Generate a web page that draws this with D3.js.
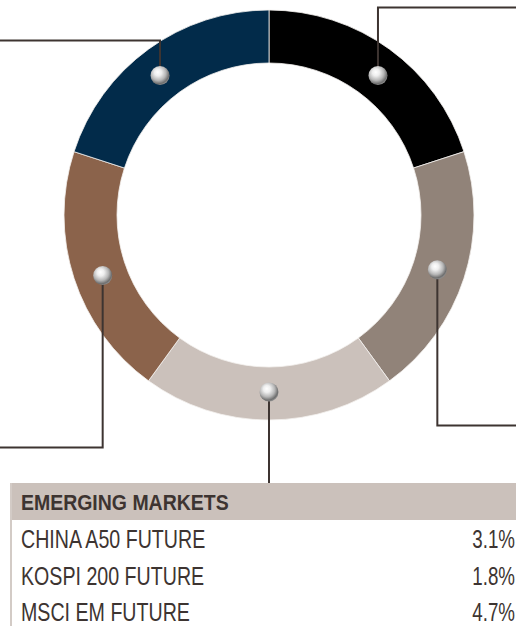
<!DOCTYPE html>
<html>
<head>
<meta charset="utf-8">
<script src="https://cdn.jsdelivr.net/npm/d3@7"></script>
<style>
  html, body { margin: 0; padding: 0; background: #ffffff; }
  svg { display: block; }
</style>
</head>
<body>
<div id="chart"></div>
<script>
// Allocation ring: five equal sleeves, clockwise from twelve o'clock
const sliceShares = [20, 20, 20, 20, 20];
const sliceColors = ["#000000", "#918379", "#cbc1bb", "#8b634b", "#022b4a"];

// Emerging markets sleeve breakdown
const emTitle = "EMERGING MARKETS";
const emNames = ["CHINA A50 FUTURE", "KOSPI 200 FUTURE", "MSCI EM FUTURE"];
const emWeights = [3.1, 1.8, 4.7];

const W = 516, H = 626;
const cx = 269, cy = 215;
const rOuter = 205, rInner = 152, rPin = 177;
const ink = "#3d3431";
const font = "'Liberation Sans Narrow', 'Arial Narrow', 'Liberation Sans', Arial, sans-serif";

// leader routing per slice: angle of the pin (deg), vertical run end, horizontal end
const leaders = [
  { angle: 38,  yEnd: 7.5,   xEnd: W },
  { angle: 108, yEnd: 425.5, xEnd: W },
  { angle: 180, yEnd: 483,   xEnd: null },
  { angle: 250, yEnd: 447.5, xEnd: 0 },
  { angle: -38, yEnd: 40.5,  xEnd: 0 }
];

const svg = d3.select("#chart").append("svg")
  .attr("width", W).attr("height", H);

const defs = svg.append("defs");
const grad = defs.append("radialGradient")
  .attr("id", "pinBall").attr("cx", "42%").attr("cy", "38%").attr("r", "62%")
  .attr("fx", "38%").attr("fy", "32%");
[[0, "#ffffff"], [0.3, "#eeeeee"], [0.65, "#b5b5b5"], [0.9, "#6f6f6f"], [1, "#8a8a8a"]]
  .forEach(([o, c]) => grad.append("stop").attr("offset", o).attr("stop-color", c));

// ring
const pie = d3.pie().sort(null).startAngle(0).endAngle(2 * Math.PI)(sliceShares);
const arc = d3.arc().innerRadius(rInner).outerRadius(rOuter);
const ring = svg.append("g").attr("transform", `translate(${cx},${cy})`);
ring.selectAll("path").data(pie).join("path")
  .attr("d", arc)
  .attr("fill", (d, i) => sliceColors[i])
  .attr("stroke", "#f4f1ef").attr("stroke-width", 0.8);

// leader lines and pins
const pins = leaders.map(l => {
  const a = l.angle * Math.PI / 180;
  return { x: cx + rPin * Math.sin(a), y: cy - rPin * Math.cos(a), l };
});

const leaderG = svg.append("g");
leaderG.selectAll("path").data(pins).join("path")
  .attr("d", p => {
    let d = `M${p.x},${p.y}V${p.l.yEnd}`;
    if (p.l.xEnd !== null) d += `H${p.l.xEnd}`;
    return d;
  })
  .attr("fill", "none").attr("stroke", ink).attr("stroke-width", 2);

leaderG.selectAll("circle").data(pins).join("circle")
  .attr("cx", p => p.x).attr("cy", p => p.y).attr("r", 9.5)
  .attr("fill", "url(#pinBall)");

// breakdown table
const tableX = 10, tableTop = 483, headH = 37, rowH = 36.7;
const table = svg.append("g");
table.append("rect")
  .attr("x", tableX).attr("y", tableTop).attr("width", W - tableX).attr("height", headH)
  .attr("fill", "#cbc1bb");
table.append("line")
  .attr("x1", tableX + 1).attr("x2", tableX + 1)
  .attr("y1", tableTop).attr("y2", H)
  .attr("stroke", "#d3cbc6").attr("stroke-width", 2);

// condensed type: regular sans squeezed horizontally
table.append("text")
  .attr("transform", `translate(21,${tableTop + 27}) scale(0.885,1)`)
  .attr("font-family", font)
  .attr("font-weight", "bold").attr("font-size", 22)
  .attr("fill", ink)
  .text(emTitle);

const rowY = d3.scalePoint().domain(emNames).range([tableTop + 65, tableTop + 65 + rowH * 2]);
const rows = table.selectAll("g.row").data(emNames).join("g").attr("class", "row");
rows.append("text")
  .attr("transform", d => `translate(21,${rowY(d)}) scale(0.785,1)`)
  .attr("font-family", font)
  .attr("font-size", 25).attr("fill", ink)
  .text(d => d);
rows.append("text")
  .attr("transform", d => `translate(515,${rowY(d)}) scale(0.75,1)`)
  .attr("text-anchor", "end")
  .attr("font-family", font)
  .attr("font-size", 25).attr("fill", ink)
  .text((d, i) => d3.format(".1f")(emWeights[i]) + "%");
</script>
</body>
</html>
